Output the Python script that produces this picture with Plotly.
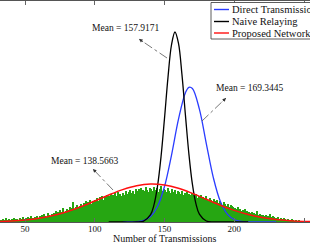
import plotly.graph_objects as go

# ---------------- data ----------------
bin_start = 30          # first histogram bin edge (Number of Transmissions)
bin_width = 1
hist_counts = [
    2, 3, 2, 2, 3, 2, 4, 2, 3, 2,
    3, 2, 4, 3, 3, 2, 4, 3, 5, 3,
    4, 3, 5, 4, 6, 4, 3, 5, 6, 4,
    6, 5, 7, 8, 6, 5, 9, 7, 6, 8,
    9, 8, 11, 10, 9, 12, 10, 14, 9, 11,
    13, 12, 15, 14, 20, 13, 15, 17, 14, 16,
    18, 16, 19, 21, 17, 20, 22, 18, 21, 19,
    22, 24, 21, 25, 23, 26, 22, 25, 27, 24,
    26, 28, 25, 27, 29, 26, 30, 27, 28, 26,
    29, 27, 31, 28, 30, 32, 29, 31, 28, 33,
    31, 33, 30, 34, 32, 31, 35, 32, 30, 34,
    33, 31, 35, 32, 34, 30, 33, 36, 31, 33,
    32, 30, 34, 31, 29, 33, 30, 32, 28, 31,
    30, 28, 31, 27, 29, 26, 30, 28, 27, 29,
    27, 25, 28, 24, 26, 23, 27, 25, 24, 26,
    23, 21, 24, 22, 20, 23, 21, 22, 19, 21,
    19, 17, 20, 18, 16, 18, 15, 17, 16, 15,
    14, 13, 15, 12, 13, 11, 12, 13, 10, 11,
    10, 9, 10, 8, 9, 8, 11, 7, 8, 7,
    7, 6, 7, 5, 6, 8, 5, 6, 5, 4,
    4, 5, 3, 4, 3, 4, 3, 2, 3, 2,
    2, 3, 2, 1, 2, 1, 2, 1, 1, 1,
    1, 0, 1, 0,
]

direct_x = [120, 130, 135, 140, 145, 150, 155, 160, 165, 167.5, 170, 175, 180, 185, 190, 195, 200, 205, 210, 220, 230]
direct_y = [0, 0.3, 1.6, 5.5, 15.5, 35.5, 66.7, 102.6, 129.3, 134.7, 133.5, 112.9, 78.2, 44.4, 20.7, 7.9, 2.5, 0.6, 0.1, 0, 0]

naive_x = [110, 120, 130, 135, 140, 142.5, 145, 147.5, 150, 152.5, 155, 157.5, 160, 162.5, 165, 167.5, 170, 172.5, 175, 180, 185, 190, 200, 210]
naive_y = [0, 0, 0, 0.9, 7.3, 17.3, 35.8, 65.1, 103.6, 144.6, 177.0, 190.0, 178.8, 147.6, 106.9, 67.9, 37.8, 18.4, 7.9, 1.0, 0.1, 0, 0, 0]

proposed_x = [30, 40, 50, 60, 70, 80, 90, 100, 110, 120, 130, 140, 150, 160, 170, 180, 190, 200, 210, 220, 230, 240, 250, 260]
proposed_y = [0.5, 1.1, 2.1, 3.8, 6.5, 10.3, 15.2, 21.0, 27.0, 32.4, 36.3, 38.0, 37.0, 33.7, 28.6, 22.7, 16.8, 11.6, 7.4, 4.5, 2.5, 1.3, 0.6, 0.3]

series_names = ["Direct Transmission", "Naive Relaying", "Proposed Network Coding"]
series_colors = ["#2a3cff", "#000000", "#ff1010"]

mean_values = [157.9171, 169.3445, 138.5663]
# label centre, arrow head, arrow tail (data coords)
label_pos = [(122.4, 194), (211.3, 134), (92.8, 61)]
arrow_head = [(131.7, 183), (194.1, 124), (98.7, 53)]
arrow_tail = [(151.8, 164), (176.9, 101), (113.1, 32)]

x_ticks = [50, 100, 150, 200, 250]
x_title = "Number of Transmissions"

# ---------------- figure ----------------
W, H = 310, 242
ML, MR, MT, MB = 0, 0, 1, 20
serif = "Liberation Serif"

bin_centers = [bin_start + bin_width * (i + 0.5) for i in range(len(hist_counts))]

fig = go.Figure()
fig.add_trace(go.Bar(x=bin_centers, y=hist_counts, width=bin_width * 0.85,
                     marker=dict(color="rgb(38,166,18)", line=dict(width=0)),
                     showlegend=False, hoverinfo="skip"))
fig.add_trace(go.Scatter(x=direct_x, y=direct_y, mode="lines", line_shape="spline",
                         line=dict(color=series_colors[0], width=1.3), name=series_names[0], showlegend=False))
fig.add_trace(go.Scatter(x=naive_x, y=naive_y, mode="lines", line_shape="spline",
                         line=dict(color=series_colors[1], width=1.3), name=series_names[1], showlegend=False))
fig.add_trace(go.Scatter(x=proposed_x, y=proposed_y, mode="lines", line_shape="spline",
                         line=dict(color=series_colors[2], width=1.5), name=series_names[2], showlegend=False))

annotations = []
shapes = []
for m, (lx, ly), (hx, hy), (tx, ty) in zip(mean_values, label_pos, arrow_head, arrow_tail):
    annotations.append(dict(x=lx, y=ly, xref="x", yref="y", text=f"Mean = {m:.4f}",
                            showarrow=False, font=dict(family=serif, size=9.5, color="#111")))
    shapes.append(dict(type="line", xref="x", yref="y", x0=tx, y0=ty, x1=hx, y1=hy,
                       line=dict(color="#555", width=0.8, dash="dashdot")))
    annotations.append(dict(x=hx, y=hy, xref="x", yref="y", axref="x", ayref="y",
                            ax=hx + (tx - hx) * 0.2, ay=hy + (ty - hy) * 0.2, text="",
                            showarrow=True, arrowhead=2, arrowsize=0.9, arrowwidth=0.8,
                            arrowcolor="#333"))

# x-axis title
annotations.append(dict(x=164.7 / W, y=(222 - 238.3) / 221, xref="paper", yref="paper",
                        text=x_title, showarrow=False, yanchor="middle",
                        font=dict(family=serif, size=10, color="#111")))

# legend box (manual)
def px2paper(px, py):
    return px / W, (222 - py) / 221

lx0, ly0 = px2paper(211, 2.5)
lx1, ly1 = px2paper(420, 39)
shapes.append(dict(type="rect", xref="paper", yref="paper", x0=lx0, y0=ly1, x1=lx1, y1=ly0,
                   fillcolor="white", line=dict(color="#333", width=0.8), layer="above"))
rows_py = [9.5, 21.5, 33.0]
for name, col, rpy in zip(series_names, series_colors, rows_py):
    a0, b0 = px2paper(214, rpy)
    a1, _ = px2paper(229, rpy)
    shapes.append(dict(type="line", xref="paper", yref="paper", x0=a0, y0=b0, x1=a1, y1=b0,
                       line=dict(color=col, width=1.4), layer="above"))
    tx0, _ = px2paper(229.5, rpy)
    annotations.append(dict(x=tx0, y=b0, xref="paper", yref="paper", text=name, showarrow=False,
                            xanchor="left", yanchor="middle",
                            font=dict(family=serif, size=10.5, color="#111")))

fig.update_layout(
    width=W, height=H, margin=dict(l=ML, r=MR, t=MT, b=MB),
    paper_bgcolor="white", plot_bgcolor="white",
    bargap=0, barmode="overlay",
    xaxis=dict(range=[32.08, 254.3], tickvals=x_ticks, ticks="inside", ticklen=4,
               tickcolor="#666", tickwidth=1, showline=True, linecolor="#555", linewidth=1,
               mirror="allticks", showgrid=False, zeroline=False, ticklabelstandoff=-2,
               tickfont=dict(family=serif, size=9, color="#111")),
    yaxis=dict(range=[0, 221], showticklabels=False, showgrid=False, zeroline=False,
               showline=False, ticks=""),
    annotations=annotations, shapes=shapes, showlegend=False,
)

fig.write_html("out.html", config={"displayModeBar": False},
               post_script="document.body.style.margin='0';document.body.style.overflow='hidden';")
